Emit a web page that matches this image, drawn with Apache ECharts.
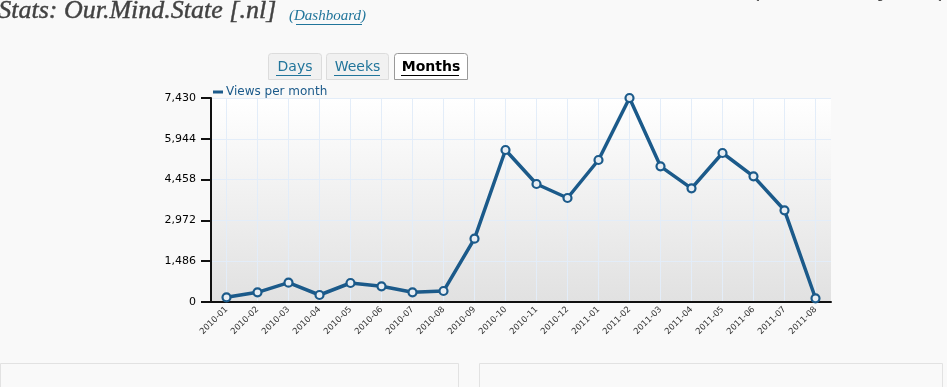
<!DOCTYPE html>
<html><head><meta charset="utf-8">
<script src="https://cdn.jsdelivr.net/npm/echarts@6/dist/echarts.min.js"></script>
<style>html,body{margin:0;padding:0;background:#f9f9f9;}#c{width:947px;height:387px;}</style>
</head><body><div id="c"></div>
<script>
var categories = ['2010-01','2010-02','2010-03','2010-04','2010-05','2010-06','2010-07','2010-08','2010-09','2010-10','2010-11','2010-12','2011-01','2011-02','2011-03','2011-04','2011-05','2011-06','2011-07','2011-08'];
var views = [171, 353, 703, 255, 692, 572, 353, 400, 2306, 5536, 4298, 3788, 5172, 7430, 4942, 4141, 5427, 4578, 3340, 135];
var yMax = 7430;
var yStep = 1486;
var seriesName = 'Views per month';
var tabs = ['Days', 'Weeks', 'Months'];

var blue = '#1b5a8a';
var link = '#21759b';
var chart = echarts.init(document.getElementById('c'));

var tabBoxes = [[268, 53, 53], [326, 53, 62], [394, 53, 73]];
var graphics = [
  {type:'text', left:-2, top:-2, style:{text:'Stats: Our.Mind.State [.nl]', font:'italic 26px "Liberation Serif"', fill:'#424242', stroke:'#424242', lineWidth:0.4}},
  {type:'text', left:289, top:9, style:{text:'(Dashboard)', font:'italic 15px "Liberation Serif"', fill:link}},
  {type:'line', shape:{x1:296, y1:24.5, x2:362, y2:24.5}, style:{stroke:link, lineWidth:1}},
  {type:'text', left:716, top:-9, style:{text:'One of your old favourite songs from way, wa', font:'11px "DejaVu Sans"', fill:'#333'}},
  {type:'rect', shape:{x:0.5, y:363.5, width:458, height:40}, style:{fill:'#f9f9f9', stroke:'#e2e2e2', lineWidth:1}},
  {type:'rect', shape:{x:479.5, y:363.5, width:463, height:40}, style:{fill:'#f9f9f9', stroke:'#e2e2e2', lineWidth:1}}
];
tabs.forEach(function(t, i){
  var b = tabBoxes[i];
  var sel = (i === 2);
  graphics.push({type:'rect', shape:{x:b[0]+0.5, y:b[1]+0.5, width:b[2], height:26, r:[3,3,0,0]},
    style:{fill: sel ? '#ffffff' : '#f1f1f1', stroke: sel ? '#999' : '#dcdcdc', lineWidth:1}});
  graphics.push({type:'text', x:b[0]+b[2]/2+0.5, y:b[1]+14, style:{text:t, font:(sel?'bold ':'')+'14px "DejaVu Sans"', fill: sel ? '#000' : link, align:'center', verticalAlign:'middle'}});
});
graphics.push({type:'line', shape:{x1:276, y1:75.5, x2:311, y2:75.5}, style:{stroke:link, lineWidth:1}});
graphics.push({type:'line', shape:{x1:334, y1:75.5, x2:380, y2:75.5}, style:{stroke:link, lineWidth:1}});
graphics.push({type:'line', shape:{x1:401, y1:75.5, x2:459, y2:75.5}, style:{stroke:'#000', lineWidth:1}});

chart.setOption({
  backgroundColor:'#f9f9f9',
  animation:false,
  graphic: graphics,
  legend:{left:208, top:81, icon:'rect', itemWidth:10, itemHeight:3, itemGap:4,
    data:[{name:seriesName, itemStyle:{color:blue, borderWidth:0}}],
    textStyle:{color:blue, fontSize:12, fontFamily:'DejaVu Sans', padding:[0,0,0,-2]}},
  grid:{left:211, right:116, top:98, bottom:85, show:true, borderWidth:0,
    backgroundColor:new echarts.graphic.LinearGradient(0,0,0,1,[{offset:0,color:'#ffffff'},{offset:1,color:'#e1e1e1'}])},
  xAxis:{type:'category', data:categories, boundaryGap:true,
    axisLine:{lineStyle:{color:'#111', width:2}},
    axisTick:{alignWithLabel:true, length:6, lineStyle:{color:'#111', width:2}},
    axisLabel:{rotate:45, fontSize:8.5, color:'#333', fontFamily:'DejaVu Sans', margin:6, interval:0},
    splitLine:{show:true, alignWithLabel:true, lineStyle:{color:'#e3edf9', width:1}}},
  yAxis:{type:'value', min:0, max:yMax, interval:yStep,
    axisLine:{show:true, lineStyle:{color:'#111', width:2}},
    axisTick:{show:true, length:10, lineStyle:{color:'#111', width:2}},
    axisLabel:{fontSize:11, color:'#000', fontFamily:'DejaVu Sans', margin:15,
      formatter:function(v){return v.toLocaleString('en-US');}},
    splitLine:{lineStyle:{color:'#e3edf9', width:1}}},
  series:[{name:seriesName, type:'line', data:views, symbol:'circle', symbolSize:8,
    lineStyle:{color:blue, width:3.5},
    itemStyle:{color:'#e8eef4', borderColor:blue, borderWidth:2.2}}]
});
</script></body></html>
